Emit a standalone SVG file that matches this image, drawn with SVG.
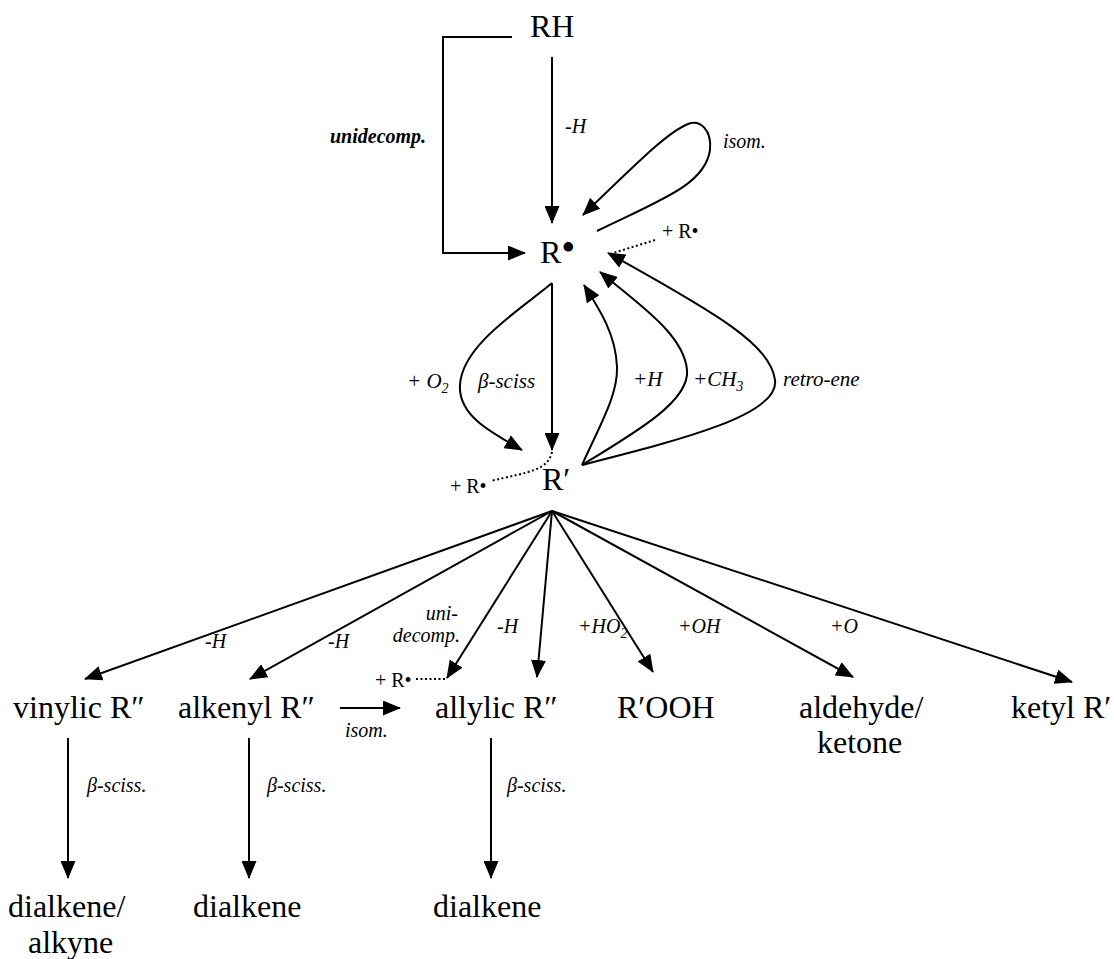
<svg xmlns="http://www.w3.org/2000/svg" width="1114" height="959" viewBox="0 0 1114 959">
  <style>
    text { font-family: "Liberation Serif", "DejaVu Serif", serif; fill: #000; }
    .sp { font-size: 32px; }
    .lb { font-size: 20px; font-style: italic; }
    .lb2 { font-size: 21px; font-style: italic; }
    .rr { font-size: 20px; }
    .arr { fill: none; stroke: #000; stroke-width: 2; marker-end: url(#ah); }
    .dot { fill: none; stroke: #000; stroke-width: 2; stroke-dasharray: 2 2.5; }
  </style>
  <defs>
    <marker id="ah" viewBox="0 0 18 15" markerWidth="18" markerHeight="15" refX="17" refY="7.5" orient="auto" markerUnits="userSpaceOnUse">
      <path d="M0,0 L18,7.5 L0,15 z" fill="#000"/>
    </marker>
  </defs>
  <rect width="1114" height="959" fill="#fff"/>

  <!-- species -->
  <g id="n-RH"><text class="sp" x="530" y="37">RH</text></g>
  <g id="n-Rrad"><text class="sp" x="540" y="263">R<tspan font-size="40" dy="-2">•</tspan></text></g>
  <g id="n-Rp"><text class="sp" x="542" y="490">R′</text></g>
  <g id="n-vinylic"><text class="sp" x="13" y="718">vinylic R″</text></g>
  <g id="n-alkenyl"><text class="sp" x="178" y="718">alkenyl R″</text></g>
  <g id="n-allylic"><text class="sp" x="435" y="718">allylic R″</text></g>
  <g id="n-ROOH"><text class="sp" x="617" y="718">R′OOH</text></g>
  <g id="n-aldehyde"><text class="sp" x="799" y="718">aldehyde/</text><text class="sp" x="817" y="753">ketone</text></g>
  <g id="n-ketyl"><text class="sp" x="1011" y="718">ketyl R′</text></g>
  <g id="n-dialkyne"><text class="sp" x="8" y="917">dialkene/</text><text class="sp" x="28" y="953">alkyne</text></g>
  <g id="n-dialkene1"><text class="sp" x="193" y="917">dialkene</text></g>
  <g id="n-dialkene2"><text class="sp" x="433" y="917">dialkene</text></g>

  <!-- connectors -->
  <g id="connectors">
    <!-- RH to R• -->
    <path class="arr" d="M512,37 H443 V253 H525"/>
    <line class="arr" x1="552" y1="57" x2="552" y2="223"/>
    <!-- isomerisation loop -->
    <path class="arr" d="M597,231 C660,200 705,185 710,150 C712,130 700,119 688,124 C668,132 640,160 583,215"/>
    <line class="dot" x1="655" y1="240" x2="610" y2="254"/>

    <!-- R• to R′ -->
    <path class="arr" d="M552,283 C520,310 462,345 460,385 C458,415 490,432 522,450"/>
    <line class="arr" x1="552" y1="283" x2="552" y2="450"/>
    <path class="dot" d="M552,452 C548,470 530,472 490,481"/>

    <!-- R′ back to R• -->
    <path class="arr" d="M582,465 C600,425 618,395 617,367 C616,335 600,310 584,285"/>
    <path class="arr" d="M582,465 C640,430 690,400 687,370 C684,335 640,305 600,272"/>
    <path class="arr" d="M582,465 C680,440 780,415 775,380 C770,345 720,315 608,253"/>

    <!-- R′ fan -->
    <line class="arr" x1="552" y1="511" x2="85" y2="679"/>
    <line class="arr" x1="552" y1="511" x2="250" y2="679"/>
    <line class="arr" x1="552" y1="511" x2="447" y2="678"/>
    <line class="arr" x1="552" y1="511" x2="537" y2="677"/>
    <line class="arr" x1="552" y1="511" x2="653" y2="672"/>
    <line class="arr" x1="552" y1="511" x2="853" y2="677"/>
    <line class="arr" x1="552" y1="511" x2="1072" y2="682"/>
    <line class="dot" x1="416" y1="679" x2="446" y2="679"/>

    <!-- isomerisation alkenyl to allylic -->
    <line class="arr" x1="340" y1="708" x2="400" y2="708"/>

    <!-- beta scission -->
    <line class="arr" x1="68" y1="738" x2="68" y2="878"/>
    <line class="arr" x1="249" y1="738" x2="249" y2="878"/>
    <line class="arr" x1="491" y1="738" x2="491" y2="878"/>
  </g>

  <!-- reaction labels -->
  <g id="labels">
    <text class="lb" x="330" y="143" font-weight="bold">unidecomp.</text>
    <text class="lb" x="565" y="133">-H</text>
    <text class="lb" x="723" y="148">isom.</text>
    <text class="rr" x="662" y="238">+ R•</text>

    <text class="lb2" x="407" y="388">+ O<tspan font-size="14" dy="5">2</tspan></text>
    <text class="lb2" x="478" y="388">β-sciss</text>
    <text class="lb2" x="633" y="386">+H</text>
    <text class="lb2" x="693" y="386">+CH<tspan font-size="14" dy="5">3</tspan></text>
    <text class="lb2" x="783" y="386">retro-ene</text>
    <text class="rr" x="450" y="493">+ R•</text>

    <text class="lb" x="205" y="648">-H</text>
    <text class="lb" x="328" y="648">-H</text>
    <text class="lb" x="458" y="620" text-anchor="end">uni-</text>
    <text class="lb" x="460" y="642" text-anchor="end">decomp.</text>
    <text class="rr" x="375" y="687">+ R•</text>
    <text class="lb" x="497" y="633">-H</text>
    <text class="lb" x="578" y="633">+HO<tspan font-size="14" dy="5">2</tspan></text>
    <text class="lb" x="678" y="633">+OH</text>
    <text class="lb" x="830" y="633">+O</text>
    <text class="lb" x="345" y="737">isom.</text>

    <text class="lb" x="87" y="792">β-sciss.</text>
    <text class="lb" x="267" y="792">β-sciss.</text>
    <text class="lb" x="507" y="792">β-sciss.</text>
  </g>
</svg>
